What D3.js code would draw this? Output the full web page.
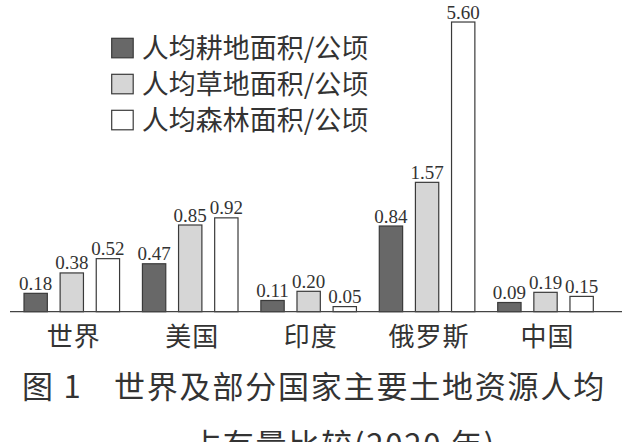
<!DOCTYPE html>
<html>
<head>
<meta charset="utf-8">
<script src="https://cdn.jsdelivr.net/npm/d3@7"></script>
<style>
  body { margin: 0; background: #fff; }
  svg { display: block; }
</style>
</head>
<body>
<svg id="chart" width="630" height="442"></svg>
<script>
// 数据
const countries = ["世界", "美国", "印度", "俄罗斯", "中国"];
const seriesNames = ["人均耕地面积/公顷", "人均草地面积/公顷", "人均森林面积/公顷"];
const cropland = [0.18, 0.47, 0.11, 0.84, 0.09];
const grassland = [0.38, 0.85, 0.20, 1.57, 0.19];
const forest = [0.52, 0.92, 0.05, 5.60, 0.15];
const seriesValues = [cropland, grassland, forest];

const fills = ["#686868", "#d6d6d6", "#ffffff"];
const serifFont = "'Liberation Serif', 'Times New Roman', serif";
const cjkFont = "'Noto Sans CJK SC', sans-serif";
const ink = "#333";

const svg = d3.select("#chart");
const baseY = 311.7;

const x0 = d3.scaleBand()
    .domain(countries)
    .range([24, 593.3])
    .paddingInner(0.193)
    .paddingOuter(0);

const x1 = d3.scaleBand()
    .domain(d3.range(seriesNames.length))
    .range([0, x0.bandwidth()])
    .paddingInner(0.354)
    .paddingOuter(0);

// 原图纵轴不是等比例的，用分段线性比例尺近似
const y = d3.scaleLinear()
    .domain([0, 1, 2, 6])
    .range([baseY, 209.7, 161.7, 6.5]);

const groups = svg.selectAll(".group")
    .data(countries)
    .enter()
    .append("g")
    .attr("class", "group")
    .attr("transform", d => `translate(${x0(d)},0)`);

groups.each(function (c, ci) {
    const g = d3.select(this);
    const vals = seriesValues.map(s => s[ci]);

    g.selectAll("rect")
        .data(vals)
        .enter()
        .append("rect")
        .attr("x", (d, i) => x1(i))
        .attr("y", d => y(d))
        .attr("width", x1.bandwidth())
        .attr("height", d => baseY - y(d))
        .attr("fill", (d, i) => fills[i])
        .attr("stroke", "#3a3a3a")
        .attr("stroke-width", 1.2);

    g.selectAll("text.val")
        .data(vals)
        .enter()
        .append("text")
        .attr("class", "val")
        .attr("x", (d, i) => x1(i) + x1.bandwidth() / 2)
        .attr("y", d => y(d) - 3.5)
        .attr("text-anchor", "middle")
        .attr("fill", ink)
        .attr("font-family", serifFont)
        .attr("font-size", "19px")
        .text(d => d.toFixed(2));
});

// 横轴
const xAxis = svg.append("g")
    .attr("transform", `translate(0,${baseY})`)
    .call(d3.axisBottom(x0).tickSize(0).tickPadding(0));
xAxis.select(".domain")
    .attr("d", "M10,0H622")
    .attr("stroke", "#444")
    .attr("stroke-width", 1.2);
xAxis.selectAll(".tick text")
    .attr("dx", 2)
    .attr("dy", 0)
    .attr("y", 34)
    .attr("fill", ink)
    .attr("font-family", cjkFont)
    .attr("font-size", "26px")
    .attr("letter-spacing", "1px");

// 图例
const legend = svg.append("g");
seriesNames.forEach((name, i) => {
    const row = legend.append("g")
        .attr("transform", `translate(111.7,${38.3 + i * 36})`);
    row.append("rect")
        .attr("width", 21.5)
        .attr("height", 19.5)
        .attr("fill", fills[i])
        .attr("stroke", "#3a3a3a")
        .attr("stroke-width", 1.2);
    row.append("text")
        .attr("x", 30)
        .attr("y", 19.5)
        .attr("fill", ink)
        .attr("font-family", cjkFont)
        .attr("font-size", "27px")
        .text(name);
});

// 标题
svg.append("text")
    .attr("x", 22)
    .attr("y", 398)
    .attr("fill", ink)
    .attr("font-family", cjkFont)
    .attr("font-size", "31px")
    .attr("letter-spacing", "1.8px")
    .html('图 1<tspan x="114">世界及部分国家主要土地资源人均</tspan>');

svg.append("text")
    .attr("x", 343)
    .attr("y", 456)
    .attr("text-anchor", "middle")
    .attr("fill", ink)
    .attr("font-family", cjkFont)
    .attr("font-size", "31px")
    .attr("letter-spacing", "1.8px")
    .text("占有量比较(2020 年)");
</script>
</body>
</html>
